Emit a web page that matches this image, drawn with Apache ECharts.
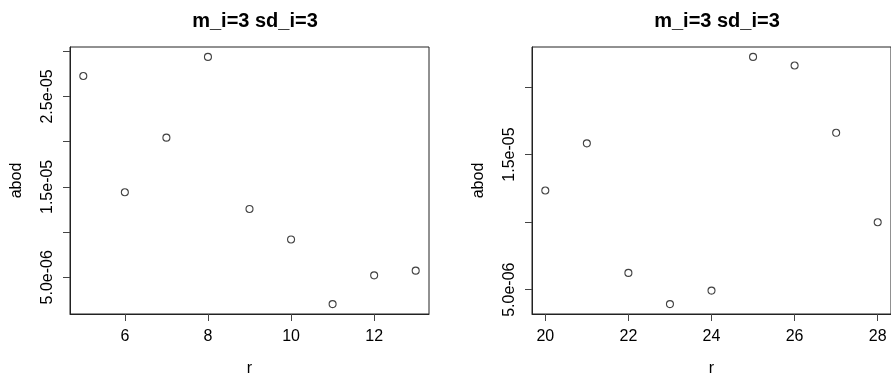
<!DOCTYPE html>
<html>
<head>
<meta charset="UTF-8">
<title></title>
<script src="https://cdn.jsdelivr.net/npm/echarts@6/dist/echarts.min.js"></script>
<style>
  html, body { margin: 0; padding: 0; background: #fff; }
  #main { width: 891px; height: 379px; }
</style>
</head>
<body>
<div id="main"></div>
<script>
// left panel
var leftR = [5, 6, 7, 8, 9, 10, 11, 12, 13];
var leftAbod = [2.726e-5, 1.441e-5, 2.044e-5, 2.937e-5, 1.256e-5, 9.19e-6, 2.04e-6, 5.22e-6, 5.74e-6];
var leftXTicks = [6, 8, 10, 12];
var leftYTicks = [5e-6, 1e-5, 1.5e-5, 2e-5, 2.5e-5, 3e-5];
var leftYLabels = [5e-6, 1.5e-5, 2.5e-5];

// right panel
var rightR = [20, 21, 22, 23, 24, 25, 26, 27, 28];
var rightAbod = [1.234e-5, 1.583e-5, 6.24e-6, 3.93e-6, 4.93e-6, 2.223e-5, 2.159e-5, 1.661e-5, 9.99e-6];
var rightXTicks = [20, 22, 24, 26, 28];
var rightYTicks = [5e-6, 1e-5, 1.5e-5, 2e-5];
var rightYLabels = [5e-6, 1.5e-5];

var titleText = 'm_i=3 sd_i=3';
var FONT = '"Liberation Sans", Arial, sans-serif';

// R style: 4% padding around data range
function lo(v) { return v.min - 0.04 * (v.max - v.min); }
function hi(v) { return v.max + 0.04 * (v.max - v.min); }

function sci(v) {
  var s = v.toExponential(1);           // 5.0e-6
  return s.replace(/e([+-])(\d)$/, 'e$10$2');
}

function xAxis(idx, ticks) {
  return {
    type: 'value', gridIndex: idx, min: lo, max: hi,
    name: 'r', nameLocation: 'middle', nameGap: 47,
    nameTextStyle: { fontFamily: FONT, fontSize: 16, color: '#000' },
    axisLine: { show: true, lineStyle: { color: '#222' } },
    axisTick: { show: true, length: 7, customValues: ticks, lineStyle: { color: '#444' } },
    axisLabel: { customValues: ticks, margin: 15, fontFamily: FONT, fontSize: 16, color: '#000' },
    splitLine: { show: false }
  };
}

function yAxis(idx, ticks, labels) {
  return {
    type: 'value', gridIndex: idx, min: lo, max: hi,
    name: 'abod', nameLocation: 'middle', nameGap: 45, nameRotate: 90,
    nameTextStyle: { fontFamily: FONT, fontSize: 16, color: '#000' },
    axisLine: { show: true, lineStyle: { color: '#222' } },
    axisTick: { show: true, length: 7, customValues: ticks, lineStyle: { color: '#444' } },
    axisLabel: {
      customValues: labels, rotate: 90, margin: 14,
      fontFamily: FONT, fontSize: 16, color: '#000',
      formatter: function (v) { return sci(v); }
    },
    splitLine: { show: false }
  };
}

function pairs(xs, ys) {
  var out = [];
  xs.forEach(function (x, i) { out.push([x, ys[i]]); });
  return out;
}

function dots(idx, data) {
  return {
    type: 'scatter', xAxisIndex: idx, yAxisIndex: idx,
    data: data, symbol: 'circle', symbolSize: 7,
    itemStyle: { color: '#fff', borderColor: '#111', borderWidth: 1.1 },
    emphasis: { disabled: true },
    animation: false
  };
}

var myChart = echarts.init(document.getElementById('main'));
var option = {
  backgroundColor: '#fff',
  animation: false,
  title: [
    { text: titleText, left: 250, top: 6, textAlign: 'center',
      textStyle: { fontFamily: FONT, fontSize: 20, fontWeight: 'bold', color: '#000' } },
    { text: titleText, left: 712, top: 6, textAlign: 'center',
      textStyle: { fontFamily: FONT, fontSize: 20, fontWeight: 'bold', color: '#000' } }
  ],
  grid: [
    { left: 70, top: 47, width: 359, height: 267, show: true, borderColor: '#222', borderWidth: 1,
      outerBoundsMode: 'none', containLabel: false },
    { left: 532, top: 47, width: 359, height: 267, show: true, borderColor: '#222', borderWidth: 1,
      outerBoundsMode: 'none', containLabel: false }
  ],
  xAxis: [xAxis(0, leftXTicks), xAxis(1, rightXTicks)],
  yAxis: [yAxis(0, leftYTicks, leftYLabels), yAxis(1, rightYTicks, rightYLabels)],
  series: [dots(0, pairs(leftR, leftAbod)), dots(1, pairs(rightR, rightAbod))]
};
myChart.setOption(option);
</script>
</body>
</html>
